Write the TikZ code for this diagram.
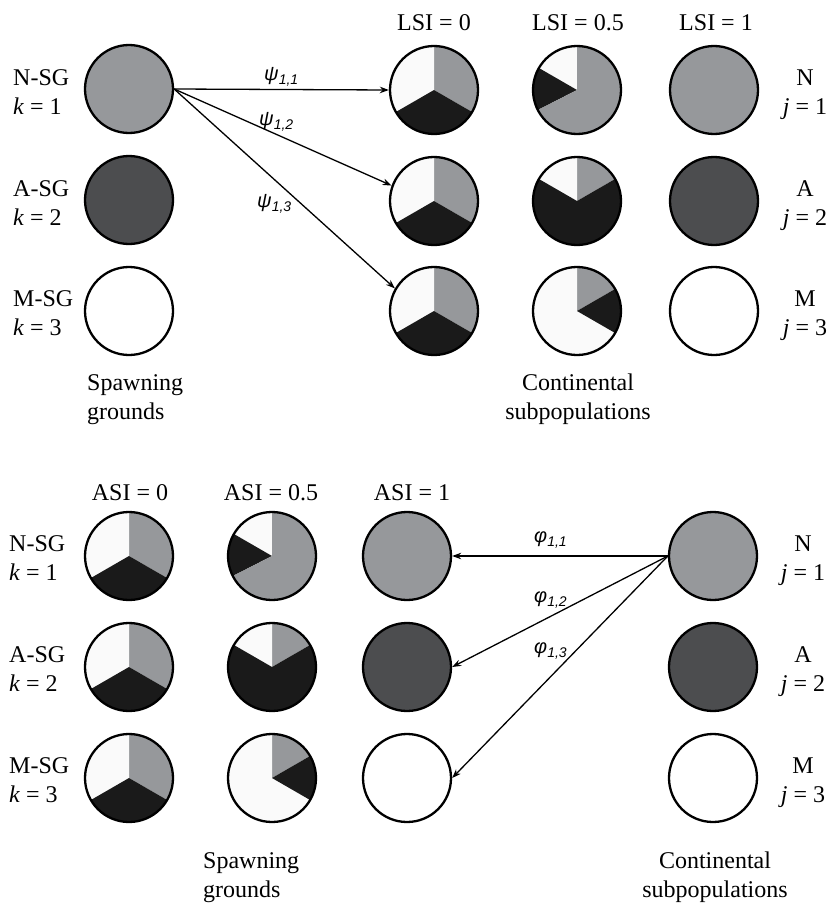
\documentclass[tikz,border=0pt]{standalone}
\usepackage{fontspec}
\setmainfont{Liberation Serif}
\newfontfamily\lsans{Liberation Sans}
\usetikzlibrary{arrows.meta}
\definecolor{pgray}{RGB}{150,152,155}
\definecolor{pdark}{RGB}{76,77,79}
\definecolor{pblack}{RGB}{26,26,26}
\definecolor{pwhite}{RGB}{250,250,250}
\tikzset{
  disc/.style={circle, draw=black, line width=2.3pt, minimum size=88pt, inner sep=0pt},
  lbl/.style={font=\fontsize{24}{29}\selectfont, inner sep=0pt, anchor=base},
  lblw/.style={lbl, anchor=base west},
  flow/.style={line width=1.3pt, -{Stealth[length=9pt,width=6.5pt]}},
  greek/.style={inner sep=0pt, anchor=base west, font=\lsans\itshape\fontsize{20}{20}\selectfont},
}
\newcommand{\sector}[5]{\fill[#5] (#1pt,#2pt) -- ++(#3:44pt) arc[start angle=#3, end angle=#4, radius=44pt] -- cycle;}
\newcommand{\pieE}[3]{%
  \sector{#2}{#3}{-30}{90}{pgray}\sector{#2}{#3}{90}{210}{pwhite}\sector{#2}{#3}{210}{330}{pblack}%
  \node[disc] (#1) at (#2pt,#3pt) {};}
\newcommand{\pieN}[3]{%
  \sector{#2}{#3}{90}{150}{pwhite}\sector{#2}{#3}{150}{207}{pblack}\sector{#2}{#3}{207}{450}{pgray}%
  \node[disc] (#1) at (#2pt,#3pt) {};}
\newcommand{\pieA}[3]{%
  \sector{#2}{#3}{30}{90}{pgray}\sector{#2}{#3}{90}{150}{pwhite}\sector{#2}{#3}{150}{390}{pblack}%
  \node[disc] (#1) at (#2pt,#3pt) {};}
\newcommand{\pieM}[3]{%
  \sector{#2}{#3}{30}{90}{pgray}\sector{#2}{#3}{90}{330}{pwhite}\sector{#2}{#3}{330}{390}{pblack}%
  \node[disc] (#1) at (#2pt,#3pt) {};}
\newcommand{\gsub}[2]{#1\raisebox{-4.5pt}{\fontsize{14}{14}\selectfont #2}}
\begin{document}
\begin{tikzpicture}
\useasboundingbox[fill=white] (0pt,0pt) rectangle (832pt,-907pt);

% ---------------- top panel ----------------
\node[lbl] (lsiA) at (434pt,-31pt) {LSI = 0};
\node[lbl] (lsiB) at (578pt,-31pt) {LSI = 0.5};
\node[lbl] (lsiC) at (716pt,-31pt) {LSI = 1};

\node[disc, fill=pgray] (sg1) at (129pt,-89pt) {};
\node[disc, fill=pdark] (sg2) at (129pt,-200pt) {};
\node[disc, fill=white] (sg3) at (129pt,-311pt) {};

\pieE{ta1}{434}{-90}
\pieE{ta2}{434}{-201}
\pieE{ta3}{434}{-311}
\pieN{tb1}{577}{-90}
\pieA{tb2}{577}{-201}
\pieM{tb3}{577}{-311}
\node[disc, fill=pgray] (tc1) at (714pt,-90pt) {};
\node[disc, fill=pdark] (tc2) at (714pt,-201pt) {};
\node[disc, fill=white] (tc3) at (714pt,-311pt) {};

\node[lblw] (lk1a) at (13pt,-85pt) {N-SG};
\node[lblw] (lk1b) at (13pt,-114pt) {\textit{k} = 1};
\node[lblw] (lk2a) at (13pt,-196pt) {A-SG};
\node[lblw] (lk2b) at (13pt,-225pt) {\textit{k} = 2};
\node[lblw] (lk3a) at (13pt,-306pt) {M-SG};
\node[lblw] (lk3b) at (13pt,-335pt) {\textit{k} = 3};

\node[lbl] (rj1a) at (805pt,-85pt) {N};
\node[lbl] (rj1b) at (805pt,-114pt) {\textit{j} = 1};
\node[lbl] (rj2a) at (805pt,-196pt) {A};
\node[lbl] (rj2b) at (805pt,-225pt) {\textit{j} = 2};
\node[lbl] (rj3a) at (805pt,-306pt) {M};
\node[lbl] (rj3b) at (805pt,-335pt) {\textit{j} = 3};

\node[lblw] (capsa) at (87pt,-390pt) {Spawning};
\node[lblw] (capsb) at (87pt,-419pt) {grounds};
\node[lbl] (capca) at (578pt,-390pt) {Continental};
\node[lbl] (capcb) at (578pt,-419pt) {subpopulations};

\draw[flow] (sg1.east) -- (ta1.west);
\draw[flow] (sg1.east) -- (ta2.160);
\draw[flow] (sg1.east) -- (ta3.150);
\node[greek] (psi1) at (264pt,-80pt) {\gsub{ψ}{1,1}};
\node[greek] (psi2) at (259pt,-125pt) {\gsub{ψ}{1,2}};
\node[greek] (psi3) at (257pt,-207pt) {\gsub{ψ}{1,3}};

% ---------------- bottom panel ----------------
\node[lbl] (asiA) at (130pt,-500pt) {ASI = 0};
\node[lbl] (asiB) at (271pt,-500pt) {ASI = 0.5};
\node[lbl] (asiC) at (412pt,-500pt) {ASI = 1};

\pieE{ba1}{129}{-556}
\pieE{ba2}{129}{-667}
\pieE{ba3}{129}{-778}
\pieN{bb1}{272}{-556}
\pieA{bb2}{272}{-667}
\pieM{bb3}{272}{-778}
\node[disc, fill=pgray] (bc1) at (407pt,-556pt) {};
\node[disc, fill=pdark] (bc2) at (407pt,-667pt) {};
\node[disc, fill=white] (bc3) at (407pt,-778pt) {};

\node[disc, fill=pgray] (cn1) at (713pt,-556pt) {};
\node[disc, fill=pdark] (cn2) at (713pt,-667pt) {};
\node[disc, fill=white] (cn3) at (713pt,-778pt) {};

\node[lblw] (bk1a) at (9pt,-551pt) {N-SG};
\node[lblw] (bk1b) at (9pt,-580pt) {\textit{k} = 1};
\node[lblw] (bk2a) at (9pt,-662pt) {A-SG};
\node[lblw] (bk2b) at (9pt,-691pt) {\textit{k} = 2};
\node[lblw] (bk3a) at (9pt,-773pt) {M-SG};
\node[lblw] (bk3b) at (9pt,-802pt) {\textit{k} = 3};

\node[lbl] (bj1a) at (803pt,-551pt) {N};
\node[lbl] (bj1b) at (803pt,-580pt) {\textit{j} = 1};
\node[lbl] (bj2a) at (803pt,-662pt) {A};
\node[lbl] (bj2b) at (803pt,-691pt) {\textit{j} = 2};
\node[lbl] (bj3a) at (803pt,-773pt) {M};
\node[lbl] (bj3b) at (803pt,-802pt) {\textit{j} = 3};

\node[lblw] (bcapsa) at (203pt,-868pt) {Spawning};
\node[lblw] (bcapsb) at (203pt,-897pt) {grounds};
\node[lbl] (bcapca) at (715pt,-868pt) {Continental};
\node[lbl] (bcapcb) at (715pt,-897pt) {subpopulations};

\draw[flow] (cn1.west) -- (bc1.east);
\draw[flow] (cn1.west) -- (bc2.east);
\draw[flow] (cn1.west) -- (bc3.east);
\node[greek] (phi1) at (534pt,-542pt) {\gsub{φ}{1,1}};
\node[greek] (phi2) at (534pt,-602pt) {\gsub{φ}{1,2}};
\node[greek] (phi3) at (534pt,-653pt) {\gsub{φ}{1,3}};
\end{tikzpicture}
\end{document}
